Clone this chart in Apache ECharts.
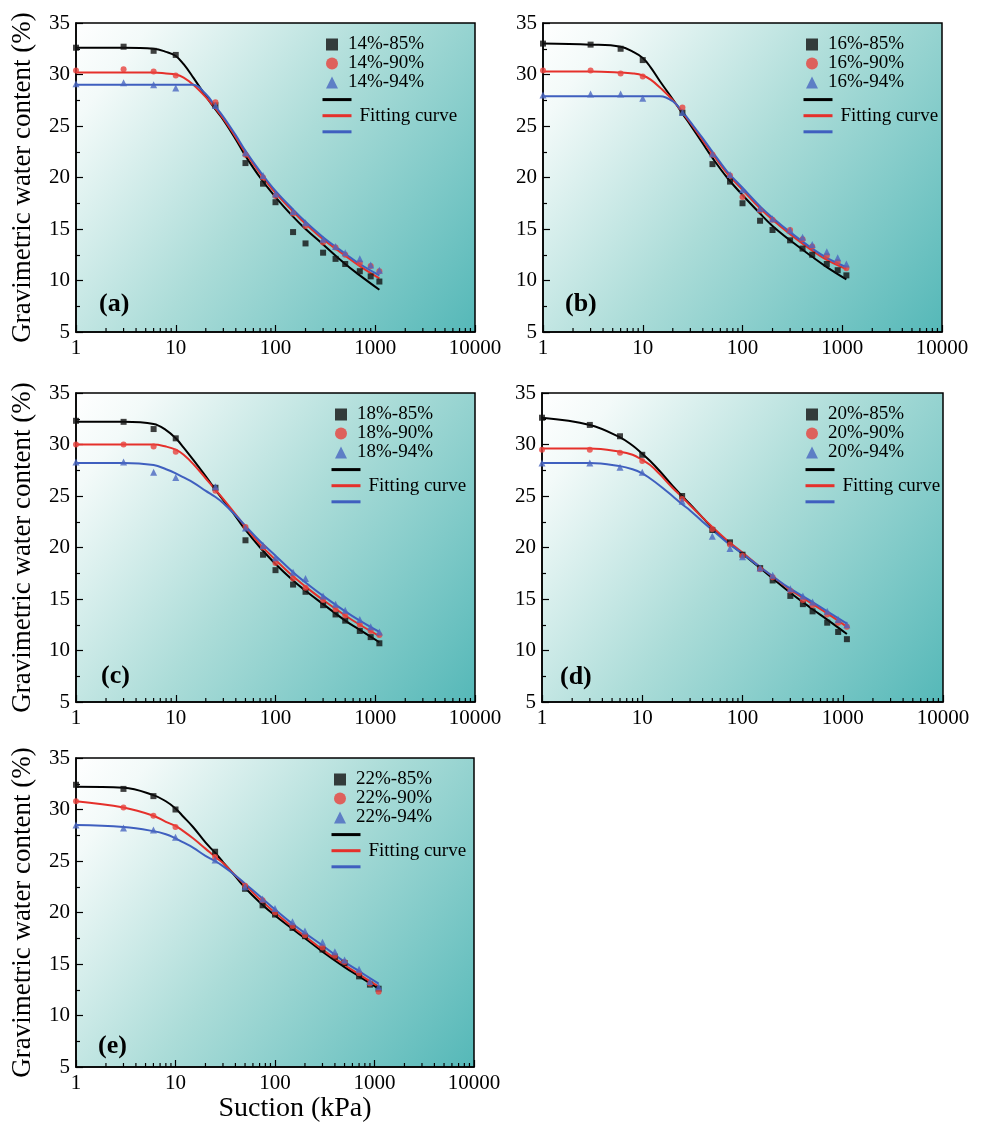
<!DOCTYPE html>
<html>
<head>
<meta charset="utf-8">
<script src="https://cdn.jsdelivr.net/npm/echarts@6/dist/echarts.min.js"></script>
<style>
  html, body { margin: 0; padding: 0; background: #fff; }
  #main { width: 981px; height: 1125px; }
</style>
</head>
<body>
<div id="main"></div>
<script>
// suction values (kPa) of the measured points and of the fitted curves
let suction = [1, 3, 6, 10, 25, 50, 75, 100, 150, 200, 300, 400, 500, 700, 900, 1100];
let fitSuction = [1, 3, 6, 8, 10, 12, 15, 20, 25, 30, 40, 50, 70, 100, 150, 200, 300, 500, 700, 1100];
let minorTicks = [2, 3, 4, 5, 6, 7, 8, 9, 20, 30, 40, 50, 60, 70, 80, 90,
    200, 300, 400, 500, 600, 700, 800, 900, 2000, 3000, 4000, 5000, 6000, 7000, 8000, 9000];

let tags = ['14%', '16%', '18%', '20%', '22%'];
let panelLabels = ['(a)', '(b)', '(c)', '(d)', '(e)'];

// (a) 14%
let a85 = [32.6, 32.7, 32.3, 31.9, 27.0, 21.4, 19.4, 17.6, 14.7, 13.6, 12.7, 12.1, 11.6, 10.9, 10.4, 9.9];
let a90 = [30.4, 30.5, 30.3, 29.9, 27.3, 22.2, 20.0, 18.2, 16.5, 15.3, 13.7, 13.2, 12.5, 11.7, 11.4, 10.9];
let a94 = [29.1, 29.2, 29.0, 28.7, 27.0, 22.4, 20.2, 18.4, 16.7, 15.6, 14.0, 13.3, 12.7, 12.1, 11.5, 11.0];
let aFit85 = [32.6, 32.6, 32.5, 32.2, 31.8, 31.0, 29.7, 27.9, 26.6, 25.6, 23.7, 22.1, 20.0, 18.1, 16.2, 15.0, 13.5, 11.6, 10.5, 9.1];
let aFit90 = [30.2, 30.2, 30.2, 30.1, 30.0, 29.7, 29.0, 27.8, 26.7, 25.7, 23.9, 22.4, 20.4, 18.5, 16.7, 15.5, 14.0, 12.4, 11.4, 10.2];
let aFit94 = [29.0, 29.0, 29.0, 29.0, 29.0, 29.0, 29.0, 28.1, 26.9, 25.9, 24.1, 22.6, 20.6, 18.7, 16.9, 15.7, 14.2, 12.6, 11.6, 10.5];

// (b) 16%
let b85 = [33.0, 32.9, 32.5, 31.4, 26.3, 21.3, 19.6, 17.5, 15.8, 14.9, 13.9, 13.1, 12.5, 11.6, 11.0, 10.5];
let b90 = [30.4, 30.4, 30.1, 29.8, 26.8, 22.2, 20.2, 18.1, 16.8, 15.9, 14.9, 14.0, 13.3, 12.4, 11.8, 11.2];
let b94 = [28.0, 28.1, 28.1, 27.7, 26.3, 22.3, 20.3, 18.8, 17.0, 16.0, 14.9, 14.2, 13.5, 12.8, 12.2, 11.6];
let bFit85 = [33.0, 32.9, 32.7, 32.2, 31.6, 30.7, 29.3, 27.6, 26.2, 25.1, 23.3, 21.9, 20.0, 18.3, 16.5, 15.3, 13.9, 12.3, 11.3, 10.1];
let bFit90 = [30.3, 30.3, 30.2, 30.1, 29.9, 29.5, 28.7, 27.5, 26.3, 25.3, 23.6, 22.3, 20.4, 18.8, 17.0, 15.9, 14.5, 12.9, 12.0, 11.1];
let bFit94 = [27.9, 27.9, 27.9, 27.9, 27.9, 27.9, 27.9, 27.4, 26.4, 25.4, 23.8, 22.5, 20.6, 19.0, 17.2, 16.1, 14.7, 13.1, 12.2, 11.3];

// (c) 18%
let c85 = [32.3, 32.2, 31.5, 30.6, 25.8, 20.7, 19.3, 17.8, 16.4, 15.7, 14.4, 13.5, 12.9, 11.9, 11.3, 10.7];
let c90 = [30.0, 30.0, 29.8, 29.3, 25.5, 22.0, 20.0, 18.5, 17.0, 16.1, 14.9, 14.0, 13.4, 12.5, 11.9, 11.5];
let c94 = [28.3, 28.3, 27.3, 26.8, 25.9, 21.9, 20.2, 19.0, 17.6, 17.0, 15.3, 14.5, 13.9, 13.0, 12.3, 11.8];
let cFit85 = [32.2, 32.2, 32.0, 31.4, 30.6, 29.7, 28.5, 26.9, 25.6, 24.6, 23.0, 21.7, 20.0, 18.4, 16.8, 15.8, 14.5, 12.9, 12.0, 10.8];
let cFit90 = [30.0, 30.0, 30.0, 29.8, 29.5, 29.0, 28.1, 26.7, 25.6, 24.7, 23.2, 22.0, 20.3, 18.8, 17.2, 16.2, 14.9, 13.4, 12.5, 11.4];
let cFit94 = [28.2, 28.2, 28.0, 27.6, 27.2, 26.8, 26.3, 25.5, 24.9, 24.3, 23.1, 22.1, 20.6, 19.2, 17.6, 16.6, 15.3, 13.8, 12.9, 11.8];

// (d) 20%
let d85 = [32.6, 31.9, 30.8, 29.0, 25.0, 21.7, 20.5, 19.3, 18.0, 16.8, 15.3, 14.5, 13.8, 12.7, 11.8, 11.1];
let d90 = [29.5, 29.5, 29.2, 28.4, 24.7, 21.8, 20.3, 19.2, 17.9, 17.1, 15.8, 14.9, 14.4, 13.5, 12.7, 12.3];
let d94 = [28.2, 28.2, 27.8, 27.3, 24.5, 21.1, 19.9, 19.1, 18.0, 17.3, 16.0, 15.3, 14.7, 13.8, 13.0, 12.5];
let dFit85 = [32.6, 31.9, 30.7, 29.9, 29.1, 28.4, 27.4, 26.0, 25.0, 24.2, 22.9, 21.9, 20.6, 19.4, 18.0, 17.0, 15.6, 14.0, 13.0, 11.6];
let dFit90 = [29.6, 29.6, 29.3, 29.0, 28.5, 28.0, 27.1, 25.8, 24.9, 24.1, 22.9, 22.0, 20.7, 19.5, 18.1, 17.2, 15.9, 14.5, 13.6, 12.3];
let dFit94 = [28.2, 28.2, 27.9, 27.6, 27.2, 26.7, 26.0, 25.0, 24.2, 23.6, 22.5, 21.7, 20.5, 19.4, 18.1, 17.2, 16.0, 14.7, 13.8, 12.6];

// (e) 22%
let e85 = [32.4, 32.0, 31.3, 30.0, 25.9, 22.3, 20.7, 19.8, 18.5, 17.7, 16.4, 15.7, 15.1, 13.8, 13.0, 12.6];
let e90 = [30.8, 30.2, 29.4, 28.3, 25.4, 22.6, 21.2, 20.0, 18.7, 17.8, 16.6, 15.8, 15.2, 14.1, 13.1, 12.3];
let e94 = [28.5, 28.2, 28.0, 27.3, 25.1, 22.5, 21.3, 20.4, 19.1, 18.2, 17.1, 16.2, 15.4, 14.5, 13.3, 12.8];
let eFit85 = [32.2, 32.1, 31.4, 30.8, 30.1, 29.3, 28.3, 26.8, 25.8, 24.9, 23.5, 22.4, 21.0, 19.7, 18.4, 17.5, 16.2, 14.7, 13.8, 12.6];
let eFit90 = [30.8, 30.2, 29.4, 28.8, 28.4, 27.9, 27.2, 26.2, 25.4, 24.8, 23.6, 22.7, 21.3, 20.0, 18.6, 17.7, 16.4, 14.9, 14.0, 12.8];
let eFit94 = [28.5, 28.3, 27.9, 27.6, 27.2, 26.8, 26.3, 25.5, 25.0, 24.5, 23.6, 22.8, 21.6, 20.3, 18.9, 18.0, 16.8, 15.2, 14.3, 13.1];

let measured = [[a85, a90, a94], [b85, b90, b94], [c85, c90, c94], [d85, d90, d94], [e85, e90, e94]];
let fitted = [[aFit85, aFit90, aFit94], [bFit85, bFit90, bFit94], [cFit85, cFit90, cFit94], [dFit85, dFit90, dFit94], [eFit85, eFit90, eFit94]];
let densities = ['85%', '90%', '94%'];

// layout of the five panels
let grids = [
    { left: 76, top: 23, width: 399, height: 309 },
    { left: 543, top: 23, width: 399, height: 309 },
    { left: 76, top: 393, width: 399, height: 309 },
    { left: 542, top: 393, width: 401, height: 309 },
    { left: 76, top: 758, width: 398, height: 309 }
];
let legendDx = [[251, 240], [264, 254], [260, 249], [265, 257], [259, 249]];
let labelPos = [[18, 32], [17, 32], [20, 30], [13, 29], [17, 25]];

let font = 'Liberation Serif';
let pointColors = ['#111111', '#e8413c', '#4a67c0'];
let lineColors = ['#000000', '#e5302b', '#3f5fbf'];
let symbols = ['rect', 'circle', 'triangle'];
let symbolSizes = [6, 6, 7];

let bg = new echarts.graphic.LinearGradient(0, 0, 1, 1, [
    { offset: 0, color: '#ffffff' },
    { offset: 0.12, color: '#f3faf9' },
    { offset: 0.5, color: '#abdcd8' },
    { offset: 1, color: '#55b8b8' }
]);

let option = {
    backgroundColor: '#fff',
    animation: false,
    grid: [], xAxis: [], yAxis: [], series: [], legend: [], title: []
};

grids.forEach((g, i) => {
    option.grid.push({
        left: g.left, top: g.top, width: g.width, height: g.height,
        show: true, backgroundColor: bg, borderColor: '#000', borderWidth: 1.5
    });
    option.xAxis.push({
        type: 'log', gridIndex: i, min: 1, max: 10000, logBase: 10,
        name: i === 4 ? 'Suction (kPa)' : '',
        nameLocation: 'middle', nameGap: 26,
        nameTextStyle: { fontFamily: font, fontSize: 28, color: '#000', padding: [0, 0, 0, 40] },
        axisLine: { lineStyle: { color: '#000', width: 1.5 } },
        axisTick: { inside: true, length: 7, lineStyle: { color: '#000', width: 1.2 } },
        axisLabel: {
            fontFamily: font, fontSize: 21, color: '#000', margin: 6,
            formatter: v => String(Math.round(v))
        },
        splitLine: { show: false }
    });
    option.yAxis.push({
        type: 'value', gridIndex: i, min: 5, max: 35, interval: 5,
        name: i % 2 === 0 ? 'Gravimetric water content (%)' : '',
        nameLocation: 'middle', nameGap: 40,
        nameTextStyle: { fontFamily: font, fontSize: 27, color: '#000' },
        axisLine: { lineStyle: { color: '#000', width: 1.5 } },
        axisTick: { inside: true, length: 7, lineStyle: { color: '#000', width: 1.2 } },
        minorTick: { show: true, splitNumber: 2, length: 4, lineStyle: { color: '#000', width: 1.2 } },
        axisLabel: { fontFamily: font, fontSize: 21, color: '#000', margin: 6 },
        splitLine: { show: false }
    });

    let tag = tags[i];
    let scatterNames = [];
    let lineNames = [];
    for (let k = 0; k < 3; k++) {
        let lname = tag + ' fit ' + densities[k];
        lineNames.push(lname);
        option.series.push({
            name: lname, type: 'line', xAxisIndex: i, yAxisIndex: i,
            data: fitSuction.map((x, j) => [x, fitted[i][k][j]]),
            symbol: 'none', smooth: 0.4, z: 3,
            lineStyle: { color: lineColors[k], width: 2 },
            itemStyle: { color: lineColors[k] }
        });
    }
    for (let k = 0; k < 3; k++) {
        let sname = tag + '-' + densities[k];
        scatterNames.push(sname);
        option.series.push({
            name: sname, type: 'scatter', xAxisIndex: i, yAxisIndex: i,
            data: suction.map((x, j) => [x, measured[i][k][j]]),
            symbol: symbols[k], symbolSize: symbolSizes[k], z: 4,
            itemStyle: { color: pointColors[k] }
        });
    }
    // log minor ticks at 2..9 of each decade
    option.series.push({
        type: 'custom', xAxisIndex: i, yAxisIndex: i, silent: true, z: 5,
        data: minorTicks.map(v => [v, 5]),
        renderItem: function (params, api) {
            let p = api.coord([api.value(0), 5]);
            return {
                type: 'line',
                shape: { x1: p[0], y1: p[1], x2: p[0], y2: p[1] - 4 },
                style: { stroke: '#000', lineWidth: 1.2 }
            };
        }
    });

    option.legend.push({
        data: scatterNames, orient: 'vertical', selectedMode: false,
        left: g.left + legendDx[i][0] - 6, top: g.top + 7,
        itemWidth: 12, itemHeight: 12, itemGap: 0,
        textStyle: { fontFamily: font, fontSize: 19, color: '#000', lineHeight: 19, padding: [0, 0, 0, 5] }
    });
    option.legend.push({
        data: lineNames, orient: 'vertical', selectedMode: false,
        left: g.left + legendDx[i][1], top: g.top + 66,
        itemWidth: 29, itemHeight: 14, itemGap: 1,
        itemStyle: { opacity: 0, borderWidth: 0 },
        lineStyle: { width: 3 },
        formatter: function (name) { return name.indexOf('90%') > -1 ? 'Fitting curve' : ''; },
        textStyle: { fontFamily: font, fontSize: 19, color: '#000', lineHeight: 14, padding: [0, 0, 0, 3] }
    });
    option.title.push({
        text: panelLabels[i],
        left: g.left + labelPos[i][0], top: g.top + g.height - labelPos[i][1] - 14,
        textStyle: { fontFamily: font, fontSize: 26, fontWeight: 'bold', color: '#000' }
    });
});

let chart = echarts.init(document.getElementById('main'));
chart.setOption(option);
</script>
</body>
</html>
